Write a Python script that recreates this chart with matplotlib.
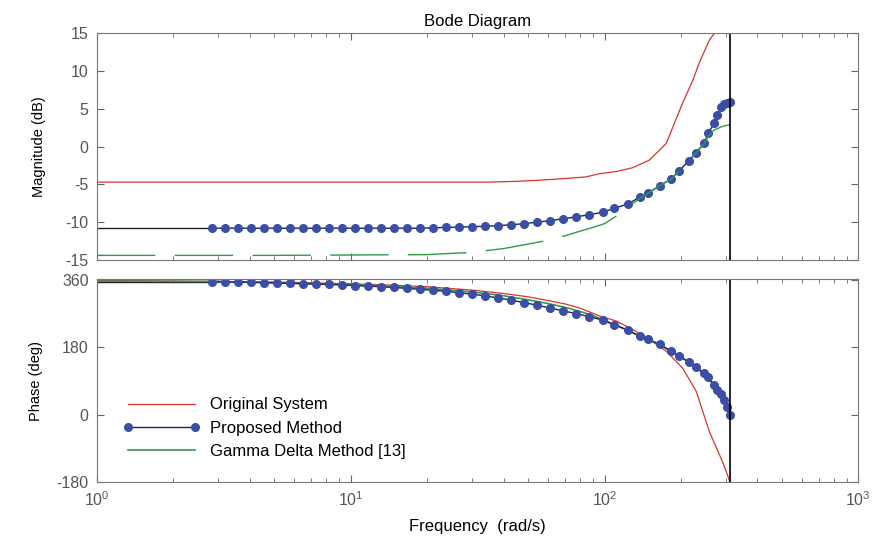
import numpy as np
import matplotlib
matplotlib.use("Agg")
import matplotlib.pyplot as plt

plt.rcParams["font.family"] = ["Liberation Sans", "DejaVu Sans"]
plt.rcParams["axes.unicode_minus"] = False

# marker frequencies (rad/s) of the proposed method
w_prop = [2.838, 3.194, 3.594, 4.045, 4.552, 5.123, 5.765, 6.488, 7.302, 8.217,
          9.247, 10.41, 11.71, 13.18, 14.83, 16.69, 18.78, 21.14, 23.79, 26.77,
          30.13, 33.91, 38.16, 42.95, 48.33, 54.39, 61.21, 68.88, 77.52, 87.24,
          98.2, 109.4, 123.6, 137.4, 147.9, 164.8, 183.2, 197.2, 214.8, 229.6,
          247.7, 255.3, 271.0, 276.7, 287.7, 296.5, 304.0, 312.0]
mag_prop = [-10.8, -10.8, -10.8, -10.8, -10.8, -10.8, -10.8, -10.8, -10.8, -10.8,
            -10.8, -10.8, -10.8, -10.8, -10.8, -10.8, -10.8, -10.75, -10.7, -10.65,
            -10.6, -10.55, -10.45, -10.35, -10.2, -10.0, -9.8, -9.55, -9.3, -9.0,
            -8.7, -8.16, -7.6, -6.7, -6.2, -5.17, -4.3, -3.2, -1.87, -0.8,
            0.5, 1.75, 3.07, 4.17, 5.26, 5.6, 5.8, 5.9]
ph_prop = [355, 354.5, 354, 353.5, 353, 352, 351, 350, 349, 348,
           346.5, 345, 343.5, 342, 340, 337.5, 335, 332.5, 329.5, 326,
           322, 317.5, 312, 306, 299.5, 292.5, 285, 277.5, 270, 262,
           253, 240, 226, 210, 203, 188, 170, 156.5, 141, 127,
           111.5, 100, 79, 67, 55, 40, 22, 0]

# original system
w_orig = [1, 5, 10, 20, 35, 45, 55, 65, 75, 85, 95, 111, 129, 150, 175, 186,
          203, 223, 237, 259, 271, 285, 300, 312]
mag_orig = [-4.7, -4.7, -4.7, -4.7, -4.7, -4.6, -4.45, -4.3, -4.15, -4.0, -3.6,
            -3.3, -2.8, -1.8, 0.4, 2.6, 5.75, 8.8, 11.2, 14.1, 15.0, 15.3, 15.4, 15.4]
w_orig_ph = [1, 3, 5, 10, 15, 20, 30, 40, 50, 60, 70, 80, 95.5, 111, 129, 150,
             175, 203, 230, 244, 259, 275, 292, 305, 312]
ph_orig = [359, 356, 354.5, 350, 346, 342, 333, 324, 315, 305, 296, 285, 264,
           250.6, 228, 201.4, 170, 125, 62.4, 8.7, -45, -85.4, -126, -160, -180]

# gamma delta method [13]
w_gd = [1, 2, 5, 10, 20, 30, 40, 50, 60, 70, 80, 90, 100, 110, 117, 123.6, 137.4,
        147.9, 164.8, 183.2, 197.2, 214.8, 229.6, 247.7, 255, 271, 288, 300, 312]
mag_gd = [-14.4, -14.4, -14.4, -14.35, -14.3, -14.0, -13.5, -12.9, -12.4, -11.8,
          -11.2, -10.7, -10.2, -9.3, -8.8, -8.0, -6.9, -6.2, -5.17, -4.3, -3.2,
          -1.9, -0.8, 0.4, 1.3, 2.2, 2.6, 2.8, 2.85]
w_gd_ph = [1, 3, 10, 20, 30, 40, 50, 60, 70, 80, 90, 100, 115, 130, 150, 170,
           190, 210, 230, 250, 270, 290, 312]
ph_gd = [357, 356, 348, 338, 328, 318, 307, 297, 287, 276, 265, 252, 235, 218,
         200, 182, 163, 145, 126, 105, 80, 52, 12]

w_end = 312.0

red = "#d8352d"
green = "#2f9a48"
navy = "#1d2352"
dot = "#3a4ea6"

fig = plt.figure(figsize=(8.74, 5.37), dpi=100)
ax1 = fig.add_axes([0.111, 0.516, 0.871, 0.422])
ax2 = fig.add_axes([0.111, 0.102, 0.871, 0.378])

# magnitude
ax1.semilogx(w_orig, mag_orig, color=red, lw=0.9)
ax1.semilogx([1, w_prop[0]], [mag_prop[0], mag_prop[0]], color="#222222", lw=1)
ax1.semilogx(w_prop, mag_prop, color=navy, lw=1, marker="o", ms=5.5,
             mfc=dot, mec=dot)
gd_line, = ax1.semilogx(w_gd, mag_gd, color=green, lw=1)
gd_line.set_dashes((42, 14))
ax1.axvline(w_end, color="black", lw=1.2)
ax1.set_ylim(-15, 15)
ax1.set_yticks(np.arange(-15, 16, 5))
ax1.set_ylabel("Magnitude (dB)", fontsize=10.5, labelpad=14)
ax1.set_title("Bode Diagram", fontsize=12, pad=5)

# phase
ax2.semilogx(w_orig_ph, ph_orig, color=red, lw=0.9, label="Original System")
ax2.semilogx([1, w_prop[0]], [ph_prop[0], ph_prop[0]], color="#222222", lw=1)
ax2.semilogx(w_gd_ph, ph_gd, color=green, lw=1.2)
ax2.semilogx(w_prop, ph_prop, color=navy, lw=1, marker="o", ms=5.5,
             mfc=dot, mec=dot, label="Proposed Method")
ax2.semilogx([], [], color=green, lw=1.2, label="Gamma Delta Method [13]")
ax2.axvline(w_end, color="black", lw=1.2)
ax2.set_ylim(-180, 362)
ax2.set_yticks([-180, 0, 180, 360])
ax2.set_ylabel("Phase (deg)", fontsize=10.5, labelpad=10)
ax2.set_xlabel("Frequency  (rad/s)", fontsize=12, labelpad=7)
ax2.legend(loc="lower left", bbox_to_anchor=(0.015, 0.04), frameon=False,
           fontsize=12, handlelength=4.6, numpoints=2, labelspacing=0.5,
           handletextpad=0.6)

for ax in (ax1, ax2):
    ax.set_xlim(1, 1000)
    ax.tick_params(which="both", direction="in", top=True, right=True,
                   colors="#666666", labelcolor="#555555", labelsize=11.5)
    ax.tick_params(which="major", length=5, pad=6)
    ax.tick_params(which="minor", length=3)
    for s in ax.spines.values():
        s.set_color("#777777")
ax1.tick_params(labelbottom=False)

fig.savefig("out.png", dpi=100)
